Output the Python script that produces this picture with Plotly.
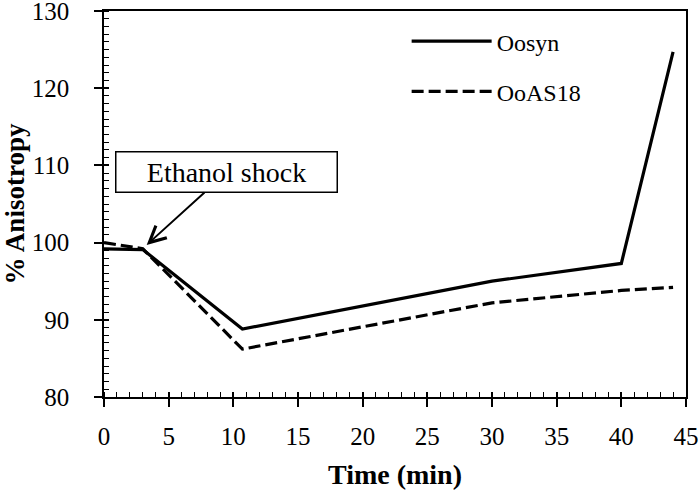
import plotly.graph_objects as go

time_min = [0, 3, 10.7, 30, 40, 44]
oosyn = [99.2, 99.1, 88.8, 95.0, 97.3, 124.7]
ooas18 = [100.0, 99.2, 86.2, 92.2, 93.8, 94.2]

FONT = "Liberation Serif"

fig = go.Figure()
fig.add_trace(go.Scatter(x=time_min, y=oosyn, mode="lines", name="Oosyn",
                         legendgroup="a",
                         line=dict(color="black", width=3.2)))
fig.add_trace(go.Scatter(x=time_min, y=ooas18, mode="lines", name="OoAS18",
                         legendgroup="b",
                         line=dict(color="black", width=3.2, dash="12px,5px")))
# empty helper trace so the overlay axes (inner half of major ticks) get drawn
fig.add_trace(go.Scatter(x=[], y=[], xaxis="x2", yaxis="y2", showlegend=False,
                         hoverinfo="skip"))

axis_common = dict(showgrid=False, zeroline=False, showline=True, linecolor="black",
                   linewidth=1.5, mirror=True, tickcolor="black", tickwidth=1.5,
                   ticks="outside", ticklen=8, automargin=False,
                   ticklabeloverflow="allow",
                   tickfont=dict(family=FONT, size=25, color="black"))

fig.update_layout(
    template="none",
    width=700, height=492,
    margin=dict(l=104, r=14, t=11, b=95, autoexpand=False),
    paper_bgcolor="white", plot_bgcolor="white",
    font=dict(family=FONT, color="black"),
    xaxis=dict(range=[0, 45], tickmode="linear", tick0=0, dtick=5,
               minor=dict(dtick=1, tick0=0, ticks="inside", ticklen=5, tickcolor="black", tickwidth=1.3),
               ticklabelstandoff=8,
               title=dict(text="<b>Time (min)</b>", font=dict(family=FONT, size=28), standoff=16),
               **axis_common),
    yaxis=dict(range=[80, 130], tickmode="linear", tick0=80, dtick=10,
               minor=dict(dtick=1, tick0=80, ticks="inside", ticklen=5, tickcolor="black", tickwidth=1.3),
               ticklabelstandoff=20,
               title=dict(text="<b>% Anisotropy</b>", font=dict(family=FONT, size=27), standoff=0),
               **axis_common),
    xaxis2=dict(overlaying="x", range=[0, 45], tickmode="linear", tick0=0, dtick=5,
                ticks="inside", ticklen=5,
                tickcolor="black", tickwidth=1.5, showticklabels=False, showline=False,
                showgrid=False, zeroline=False, anchor="y2", side="bottom"),
    yaxis2=dict(overlaying="y", range=[80, 130], tickmode="linear", tick0=80, dtick=10,
                ticks="inside", ticklen=5,
                tickcolor="black", tickwidth=1.5, showticklabels=False, showline=False,
                showgrid=False, zeroline=False, anchor="x2", side="left"),
    legend=dict(x=0.52, y=0.979, xanchor="left", yanchor="top",
                font=dict(family=FONT, size=24, color="black"),
                bgcolor="rgba(0,0,0,0)", itemwidth=80, tracegroupgap=16),
    showlegend=True,
)

fig.add_annotation(
    x=3.3, y=99.7, ax=9.5, ay=109.1, axref="x", ayref="y", xref="x", yref="y",
    text="Ethanol shock", showarrow=True, arrowhead=5, arrowsize=1.6, arrowwidth=2,
    arrowcolor="black", standoff=0,
    font=dict(family=FONT, size=28, color="black"),
    bordercolor="black", borderwidth=1.5, borderpad=1, bgcolor="white",
    width=218, height=37,
)

fig.write_html("out.html", config={"displayModeBar": False},
               post_script="document.body.style.margin='0';document.body.style.overflow='hidden';")
